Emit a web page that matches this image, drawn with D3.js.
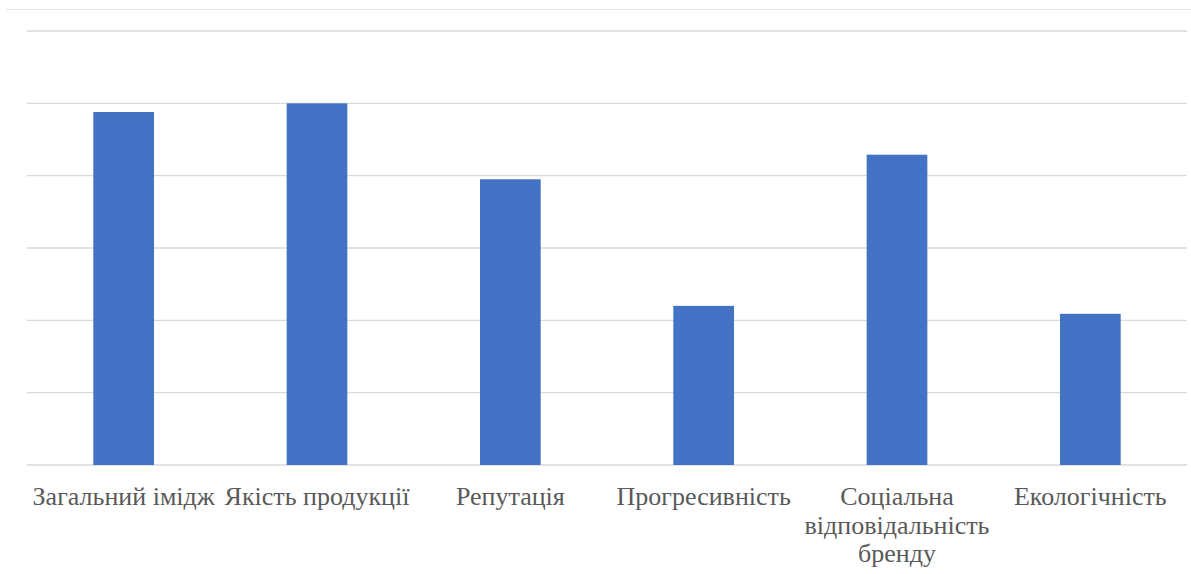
<!DOCTYPE html>
<html>
<head>
<meta charset="utf-8">
<script src="https://cdn.jsdelivr.net/npm/d3@7"></script>
<style>
  body { margin: 0; background: #fff; }
  .x.axis text { font-family: "Liberation Serif", "Times New Roman", serif; font-size: 26px; fill: #595959; }
</style>
</head>
<body>
<div id="chart"></div>
<script>
const categories = [
  'Загальний імідж',
  'Якість продукції',
  'Репутація',
  'Прогресивність',
  'Соціальна відповідальність бренду',
  'Екологічність',
];
const values = [4.88, 5.0, 3.95, 2.2, 4.29, 2.09];
const yTicks = [0, 1, 2, 3, 4, 5, 6];

const width = 1191;
const height = 574;
const margin = { top: 31, right: 4, bottom: 109, left: 27 };

const svg = d3
  .select('#chart')
  .append('svg')
  .attr('width', width)
  .attr('height', height);

// outer chart border line at top
svg
  .append('line')
  .attr('x1', 6)
  .attr('x2', width)
  .attr('y1', 9.5)
  .attr('y2', 9.5)
  .attr('stroke', '#e6e6e6')
  .attr('stroke-width', 1);

const g = svg.append('g').attr('transform', `translate(${margin.left},${margin.top})`);
const innerW = width - margin.left - margin.right;
const innerH = height - margin.top - margin.bottom;

const x = d3
  .scaleBand()
  .domain(categories)
  .range([0, innerW])
  .paddingInner(0.686)
  .paddingOuter(0.343);

const y = d3
  .scaleLinear()
  .domain([0, 6])
  .range([innerH, 0]);

// grid
g.append('g')
  .attr('class', 'grid')
  .selectAll('line')
  .data(yTicks)
  .join('line')
  .attr('x1', 0)
  .attr('x2', innerW)
  .attr('y1', d => y(d))
  .attr('y2', d => y(d))
  .attr('stroke', '#d9d9d9')
  .attr('stroke-width', 1.3);

// bars
g.selectAll('.bar')
  .data(values)
  .join('rect')
  .attr('class', 'bar')
  .attr('x', (d, i) => x(categories[i]))
  .attr('y', d => y(d))
  .attr('width', x.bandwidth())
  .attr('height', d => y(0) - y(d))
  .attr('fill', '#4472c4');

// x axis labels
const xAxis = g
  .append('g')
  .attr('class', 'x axis')
  .attr('transform', `translate(0,${innerH})`)
  .call(d3.axisBottom(x).tickSize(0).tickPadding(0));
xAxis.select('.domain').remove();
xAxis.selectAll('.tick text').call(wrap, x.step());

function wrap(texts, w) {
  texts.each(function() {
    const text = d3.select(this);
    const words = text.text().split(/\s+/);
    const lineH = 28.5;
    const y0 = 40;
    text.text(null).attr('dy', null).attr('y', null);
    let line = [];
    let n = 0;
    let tspan = text.append('tspan').attr('x', 0).attr('y', y0);
    for (const word of words) {
      line.push(word);
      tspan.text(line.join(' '));
      if (tspan.node().getComputedTextLength() > w && line.length > 1) {
        line.pop();
        tspan.text(line.join(' '));
        line = [word];
        n++;
        tspan = text.append('tspan').attr('x', 0).attr('y', y0 + n * lineH).text(word);
      }
    }
  });
}
</script>
</body>
</html>
